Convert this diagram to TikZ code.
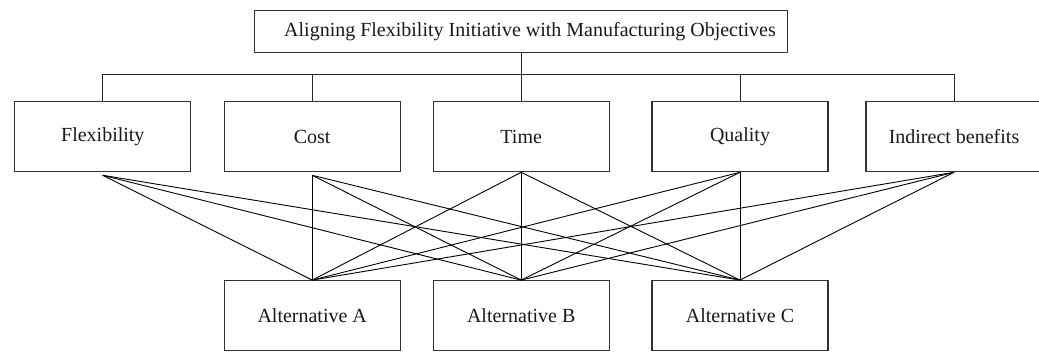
\documentclass[tikz,border=0pt]{standalone}
\usepackage{fontspec}
\setmainfont{Liberation Serif}
\begin{document}
\begin{tikzpicture}[x=1pt, y=-1pt,
  box/.style={draw=black!80, line width=1.2pt, rectangle, inner sep=0pt,
    minimum width=176pt, minimum height=70pt,
    font=\fontsize{20}{24}\selectfont, text=black!90},
  goalbox/.style={box, minimum width=533pt, minimum height=41.6pt},
  tree/.style={draw=black!85, line width=1pt},
  link/.style={draw=black, line width=0.9pt}]
\useasboundingbox (0,0) rectangle (1039,351);
\clip (0,0) rectangle (1039,351);

% goal (title set slightly right of the box centre)
\node[goalbox] (goal) at (521,31.5) {\hspace*{18pt}Aligning Flexibility Initiative with Manufacturing Objectives};

% criteria
\node[box] (flex) at (102.8,136.7) {Flexibility};
\node[box] (cost) at (312.2,136.7) {Cost};
\node[box] (time) at (521.2,136.7) {Time};
\node[box] (qual) at (740,136.7) {Quality};
\node[box] (ind)  at (954,136.7) {Indirect benefits};

% alternatives
\node[box] (altA) at (312.2,315.7) {Alternative A};
\node[box] (altB) at (521.2,315.7) {Alternative B};
\node[box] (altC) at (740,315.7) {Alternative C};

% hierarchy bus
\coordinate (bus) at (0,74.3);
\draw[tree] (goal.south) -- (goal.south |- bus);
\draw[tree] (flex.north |- bus) -- (ind.north |- bus);
\foreach \c in {flex,cost,time,qual,ind}
  \draw[tree] (\c.north) -- (\c.north |- bus);

% criterion-to-alternative links
\coordinate (pflex) at ([yshift=-3pt]flex.south);
\coordinate (pcost) at ([yshift=-3pt]cost.south);
\coordinate (ptime) at (time.south);
\coordinate (pqual) at (qual.south);
\coordinate (pind)  at (ind.south);
\foreach \c in {pflex,pcost,ptime,pqual,pind}
  \foreach \a in {altA,altB,altC}
    \draw[link] (\c) -- (\a.north);
\end{tikzpicture}
\end{document}
